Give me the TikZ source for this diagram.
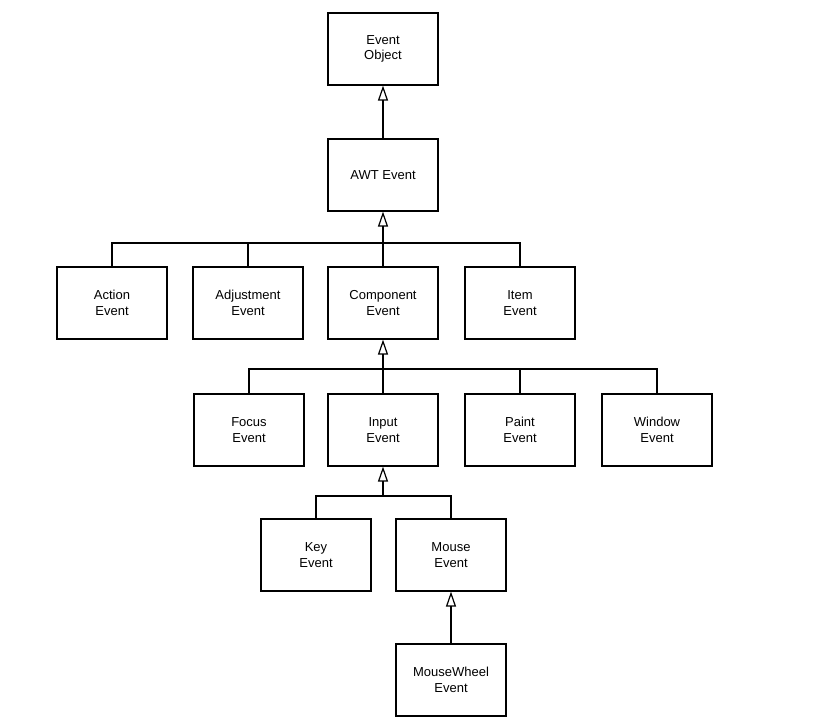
\documentclass[tikz,border=0pt]{standalone}
\usepackage{fontspec}
\setmainfont{Liberation Sans}
\usepackage{tikz}
\usetikzlibrary{arrows.meta}

\begin{document}
\begin{tikzpicture}[x=1pt,y=-1pt,
    classbox/.style={draw,line width=1.2pt,minimum width=110pt,minimum height=72pt,
        align=center,font=\fontsize{13}{15.5}\selectfont},
    inherit/.style={line width=1.2pt,-{Triangle[open,length=15pt,width=10pt,line width=1.2pt]}},
    bus/.style={line width=1.2pt}]

\useasboundingbox (0,0) rectangle (815,725);

% Top of the tree
\node[classbox] (obj) at (383,49) {Event\\Object};
\node[classbox] (awt) at (383,175) {AWT Event};
\draw[inherit] (awt.north) -- (obj.south);

% Second row
\node[classbox] (act) at (112,303) {Action\\Event};
\node[classbox] (adj) at (248,303) {Adjustment\\Event};
\node[classbox] (cmp) at (383,303) {Component\\Event};
\node[classbox] (itm) at (520,303) {Item\\Event};
\coordinate (b1) at (383,243);
\draw[inherit] (b1) -- (awt.south);
\draw[bus] (act.north) |- (b1);
\draw[bus] (adj.north) |- (b1);
\draw[bus] (cmp.north) -- (b1);
\draw[bus] (itm.north) |- (b1);

% Third row
\node[classbox] (foc) at (249,430) {Focus\\Event};
\node[classbox] (inp) at (383,430) {Input\\Event};
\node[classbox] (pnt) at (520,430) {Paint\\Event};
\node[classbox] (win) at (657,430) {Window\\Event};
\coordinate (b2) at (383,369);
\draw[inherit] (b2) -- (cmp.south);
\draw[bus] (foc.north) |- (b2);
\draw[bus] (inp.north) -- (b2);
\draw[bus] (pnt.north) |- (b2);
\draw[bus] (win.north) |- (b2);

% Fourth row
\node[classbox] (key) at (316,555) {Key\\Event};
\node[classbox] (mse) at (451,555) {Mouse\\Event};
\coordinate (b3) at (383,496);
\draw[inherit] (b3) -- (inp.south);
\draw[bus] (key.north) |- (b3);
\draw[bus] (mse.north) |- (b3);

% Bottom
\node[classbox] (whl) at (451,680) {MouseWheel\\Event};
\draw[inherit] (whl.north) -- (mse.south);

\end{tikzpicture}
\end{document}
